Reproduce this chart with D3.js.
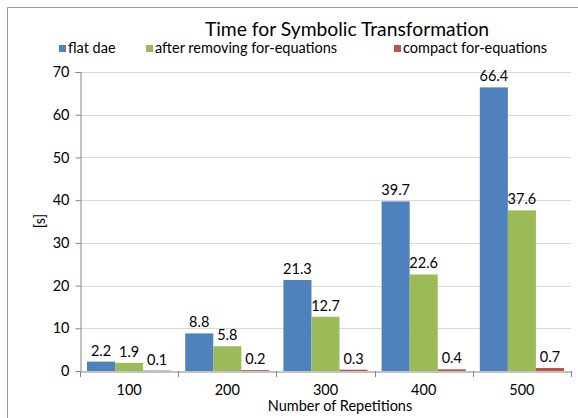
<!DOCTYPE html>
<html><head><meta charset="utf-8">
<script src="https://cdn.jsdelivr.net/npm/d3@7"></script>
<style>body{margin:0;background:#fff}text{font-family:Lato,"Open Sans",sans-serif;fill:#000}</style>
</head><body>
<script>
const categories = ["100","200","300","400","500"];
const seriesNames = ["flat dae","after removing for-equations","compact for-equations"];
const flatDae = [2.2, 8.8, 21.3, 39.7, 66.4];
const afterRemoving = [1.9, 5.8, 12.7, 22.6, 37.6];
const compactFor = [0.1, 0.2, 0.3, 0.4, 0.7];
const yTicks = [0,10,20,30,40,50,60,70];
const colors = ["#4F81BD","#9BBB59","#C0504D"];
const series = [flatDae, afterRemoving, compactFor];

const W = 578, H = 418;
const svg = d3.select("body").append("svg").attr("width", W).attr("height", H);

// outer frame
svg.append("path").attr("d", `M7.5,${H} V7.5 H${W}`).attr("fill","none").attr("stroke","#9a9a9a");

const x0 = d3.scaleBand().domain(categories).range([80, 571]).paddingInner(0.5/3.5).paddingOuter(0.25/3.5);
const x0b = d3.scaleBand().domain(categories).range([80, 571]);
const x1 = d3.scaleBand().domain([0,1,2]).range([0, x0.bandwidth()]);
const y = d3.scaleLinear().domain([0,70]).range([371, 72]);

// gridlines
svg.append("g").selectAll("line").data(yTicks.slice(1)).join("line")
  .attr("x1", 80).attr("x2", 571).attr("y1", d=>Math.round(y(d))+0.5).attr("y2", d=>Math.round(y(d))+0.5)
  .attr("stroke","#d9d9d9");

// y axis
const yAxis = svg.append("g").attr("transform","translate(80.5,0)")
  .call(d3.axisLeft(y).tickValues(yTicks).tickSize(5).tickPadding(6).tickFormat(d3.format("d")));
yAxis.select(".domain").attr("stroke","#868686");
yAxis.selectAll(".tick line").attr("stroke","#868686");
yAxis.selectAll(".tick text").attr("font-size","14.5px").style("font-family","Lato,sans-serif");

// bars
const groups = svg.append("g").selectAll("g").data(series).join("g")
  .attr("fill", (d,i)=>colors[i]);
groups.each(function(vals, si){
  d3.select(this).selectAll("rect").data(vals).join("rect")
    .attr("x", (d,i)=>x0(categories[i]) + x1(si))
    .attr("width", x1.bandwidth())
    .attr("y", d=>y(d))
    .attr("height", d=>y(0)-y(d));
  d3.select(this.parentNode).append("g").selectAll("text").data(vals).join("text")
    .attr("x", (d,i)=>x0(categories[i]) + x1(si) + x1.bandwidth()/2)
    .attr("y", d=>y(d)-6)
    .attr("text-anchor","middle").attr("font-size","14.5px")
    .text(d=>d3.format(".1f")(d));
});

// x axis
const xAxis = svg.append("g").attr("transform",`translate(0,${Math.round(y(0))+0.5})`)
  .call(d3.axisBottom(x0b).tickSize(0).tickPadding(13));
xAxis.select(".domain").attr("stroke","#868686");
xAxis.selectAll(".tick text").attr("font-size","14.5px").style("font-family","Lato,sans-serif");
svg.append("g").selectAll("line").data(d3.range(categories.length+1)).join("line")
  .attr("x1", i=>Math.round(80 + i*x0b.step())+0.5).attr("x2", i=>Math.round(80 + i*x0b.step())+0.5)
  .attr("y1", Math.round(y(0))).attr("y2", Math.round(y(0))+6).attr("stroke","#868686");

// titles
svg.append("text").attr("x", 347).attr("y", 36).attr("text-anchor","middle").attr("font-size","19.3px")
  .text("Time for Symbolic Transformation");
svg.append("text").attr("x", 340).attr("y", 411).attr("text-anchor","middle").attr("font-size","14.5px")
  .text("Number of Repetitions");
svg.append("text").attr("transform","translate(45,221) rotate(-90)").attr("text-anchor","middle").attr("font-size","14.5px")
  .text("[s]");

// legend
const legX = [59, 146, 394];
const leg = svg.append("g").selectAll("g").data(seriesNames).join("g")
  .attr("transform",(d,i)=>`translate(${legX[i]},0)`);
leg.append("rect").attr("x",0).attr("y",45).attr("width",7).attr("height",7).attr("fill",(d,i)=>colors[i]);
leg.append("text").attr("x",9).attr("y",53).attr("font-size","14.5px").text(d=>d);
</script>
</body></html>
